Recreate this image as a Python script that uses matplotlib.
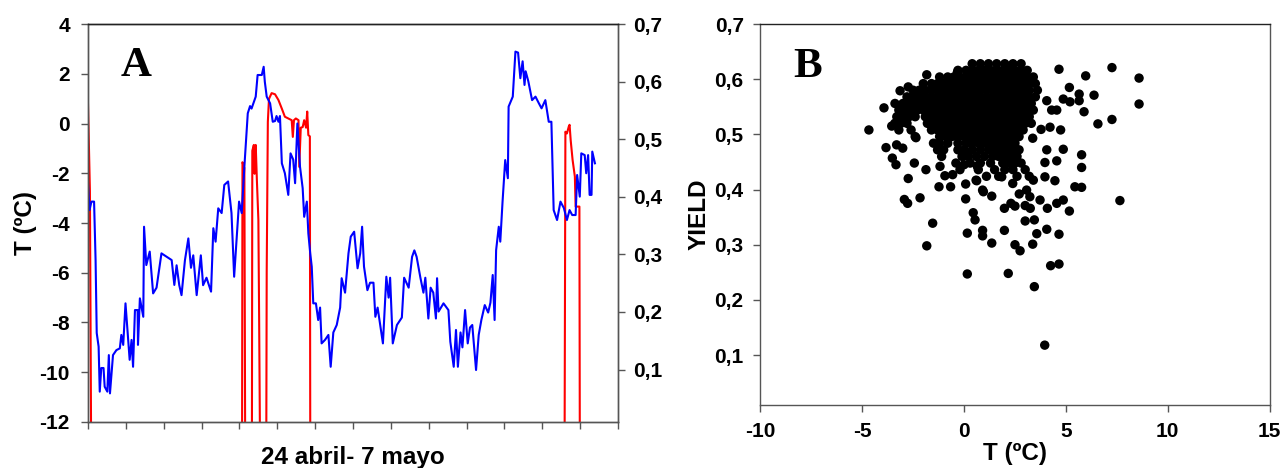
import numpy as np
import matplotlib
matplotlib.use("Agg")
import matplotlib.pyplot as plt

plt.rcParams['font.family'] = ['Liberation Sans', 'DejaVu Sans']
plt.rcParams['font.weight'] = 'bold'
plt.rcParams['axes.unicode_minus'] = False

# Panel A: temperature (blue, left axis) over 24 April - 7 May, in days
day_t = [0.00, 0.04, 0.09, 0.16, 0.20, 0.23, 0.28, 0.31, 0.35, 0.41, 0.44, 0.51, 0.55, 0.58,
         0.66, 0.75, 0.84, 0.88, 0.93, 0.99, 1.06, 1.10, 1.15, 1.19, 1.24, 1.31, 1.32, 1.37,
         1.46, 1.48, 1.54, 1.63, 1.72, 1.81, 1.94, 2.12, 2.21, 2.28, 2.34, 2.41, 2.47, 2.56,
         2.65, 2.72, 2.78, 2.87, 2.98, 3.04, 3.13, 3.25, 3.31, 3.37, 3.44, 3.53, 3.60, 3.70,
         3.79, 3.86, 3.93, 3.99, 4.06, 4.13, 4.22, 4.28, 4.32, 4.43, 4.48, 4.59, 4.64, 4.67,
         4.72, 4.81, 4.88, 4.94, 4.98, 5.03, 5.07, 5.12, 5.20, 5.29, 5.35, 5.42, 5.47, 5.53,
         5.60, 5.67, 5.71, 5.78, 5.82, 5.87, 5.91, 5.95, 6.02, 6.08, 6.13, 6.17, 6.26, 6.35,
         6.41, 6.48, 6.57, 6.66, 6.70, 6.79, 6.88, 6.94, 7.03, 7.12, 7.19, 7.24, 7.29, 7.38,
         7.45, 7.54, 7.59, 7.65, 7.79, 7.88, 7.94, 7.98, 8.05, 8.16, 8.29, 8.35, 8.47, 8.56,
         8.62, 8.68, 8.78, 8.86, 8.91, 8.99, 9.05, 9.12, 9.19, 9.22, 9.26, 9.39, 9.52, 9.57,
         9.66, 9.72, 9.77, 9.84, 9.89, 9.96, 10.03, 10.09, 10.15, 10.25, 10.32, 10.39, 10.48,
         10.57, 10.63, 10.69, 10.74, 10.78, 10.85, 10.89, 10.95, 11.02, 11.09, 11.11, 11.22,
         11.29, 11.36, 11.42, 11.48, 11.53, 11.56, 11.63, 11.73, 11.82, 11.91, 11.98, 12.08,
         12.17, 12.24, 12.30, 12.39, 12.48, 12.57, 12.65, 12.72, 12.79, 12.88, 12.92, 12.99,
         13.03, 13.12, 13.16, 13.21, 13.25, 13.30, 13.32, 13.39]
temp = [-2.40, -3.48, -3.14, -3.14, -5.49, -8.42, -8.97, -10.78, -9.83, -9.83, -10.58, -10.78,
        -9.31, -10.85, -9.31, -9.11, -9.04, -8.50, -8.90, -7.23, -8.70, -9.50, -8.70, -9.78,
        -7.50, -7.50, -8.90, -7.03, -7.77, -4.15, -5.69, -5.15, -6.83, -6.60, -5.22, -5.40,
        -5.49, -6.49, -5.70, -6.50, -6.90, -5.50, -4.62, -5.80, -5.30, -6.90, -5.30, -6.50,
        -6.20, -6.76, -4.21, -4.75, -3.41, -3.60, -2.47, -2.33, -3.60, -6.16, -4.50, -3.14,
        -3.60, -1.74, 0.41, 0.70, 0.60, 1.08, 1.95, 1.95, 2.28, 1.68, 1.08, 0.81, 0.07, 0.10,
        0.30, 0.07, 0.30, -1.60, -2.00, -2.87, -1.20, -1.45, -2.40, 0.00, -1.74, -2.60, -3.75,
        -3.14, -4.42, -5.22, -5.76, -7.23, -7.23, -7.90, -7.40, -8.84, -8.70, -8.50, -9.78,
        -8.40, -8.10, -7.40, -6.22, -6.80, -5.22, -4.55, -4.35, -5.82, -5.22, -4.15, -5.75,
        -6.70, -6.40, -6.40, -7.77, -7.40, -8.84, -6.16, -7.00, -6.20, -8.84, -8.10, -7.80,
        -6.20, -6.60, -5.36, -5.10, -5.36, -6.20, -6.80, -6.20, -7.84, -6.60, -6.80, -7.84,
        -6.22, -7.56, -7.23, -7.50, -8.77, -9.78, -8.30, -9.78, -8.40, -9.00, -7.50, -8.84,
        -8.20, -8.10, -9.91, -8.50, -7.90, -7.30, -7.60, -7.20, -6.09, -7.90, -5.09, -4.15,
        -4.75, -3.14, -1.47, -2.20, 0.68, 1.08, 2.89, 2.85, 1.82, 2.50, 1.55, 2.10, 1.70, 0.94,
        1.08, 0.81, 0.61, 0.94, 0.07, 0.07, -3.48, -3.88, -3.14, -3.40, -3.88, -3.48, -3.68,
        -3.68, -2.07, -2.94, -1.20, -1.27, -2.00, -1.27, -2.87, -2.87, -1.13, -1.60]

# Panel A: yield (red, right axis); zero at night
day_y = [0.00, 0.02, 0.05, 0.08, 4.07, 4.08, 4.13, 4.15, 4.33, 4.34, 4.38, 4.40, 4.43, 4.46,
         4.50, 4.52, 4.54, 4.71, 4.72, 4.75, 4.78, 4.85, 4.94, 5.03, 5.12, 5.20, 5.29, 5.38,
         5.41, 5.44, 5.49, 5.56, 5.58, 5.62, 5.67, 5.71, 5.76, 5.79, 5.82, 5.86, 5.87, 12.59,
         12.60, 12.61, 12.65, 12.70, 12.72, 12.75, 12.80, 12.86, 12.88, 12.98, 12.99, 13.39]
yld = [0.56, 0.50, 0.41, 0.0, 0.0, 0.46, 0.45, 0.0, 0.0, 0.48, 0.49, 0.44, 0.49, 0.43,
       0.36, 0.19, 0.0, 0.0, 0.27, 0.53, 0.57, 0.58, 0.578, 0.568, 0.553, 0.539, 0.536, 0.533,
       0.504, 0.533, 0.536, 0.533, 0.452, 0.52, 0.521, 0.533, 0.52, 0.548, 0.507, 0.505, 0.0, 0.0,
       0.26, 0.513, 0.51, 0.522, 0.525, 0.498, 0.464, 0.435, 0.383, 0.383, 0.0, 0.0]

# Panel B: yield vs temperature, dense core written row by row
core_rows = {
    0.628: [0.4, 0.8, 1.2, 1.6, 2.0, 2.4, 2.8],
    0.616: [-0.3, 0.1, 0.4, 0.7, 1.0, 1.3, 1.6, 1.9, 2.2, 2.5, 2.8, 3.1],
    0.604: [-1.2, -0.8, -0.5, -0.2, 0.1, 0.4, 0.7, 1.0, 1.3, 1.6, 1.9, 2.2, 2.5, 2.8, 3.1, 3.4],
    0.592: [-2.0, -1.6, -1.3, -1.0, -0.7, -0.4, -0.1, 0.2, 0.5, 0.8, 1.1, 1.4, 1.7, 2.0, 2.3,
            2.6, 2.9, 3.2, 3.5],
    0.580: [-2.5, -2.2, -1.9, -1.6, -1.3, -1.0, -0.7, -0.4, -0.1, 0.2, 0.5, 0.8, 1.1, 1.4, 1.7,
            2.0, 2.3, 2.6, 2.9, 3.2, 3.6],
    0.568: [-2.8, -2.5, -2.2, -1.9, -1.6, -1.3, -1.0, -0.7, -0.4, -0.1, 0.2, 0.5, 0.8, 1.1, 1.4,
            1.7, 2.0, 2.3, 2.6, 2.9, 3.2, 3.5],
    0.556: [-3.0, -2.7, -2.4, -2.1, -1.8, -1.5, -1.2, -0.9, -0.6, -0.3, 0.0, 0.3, 0.6, 0.9, 1.2,
            1.5, 1.8, 2.1, 2.4, 2.7, 3.0, 3.3],
    0.544: [-3.2, -2.9, -2.6, -2.3, -2.0, -1.7, -1.4, -1.1, -0.8, -0.5, -0.2, 0.1, 0.4, 0.7, 1.0,
            1.3, 1.6, 1.9, 2.2, 2.5, 2.8, 3.1, 3.4],
    0.532: [-3.3, -3.0, -2.7, -2.4, -1.9, -1.6, -1.3, -1.0, -0.7, -0.4, -0.1, 0.2, 0.5, 0.8, 1.1,
            1.4, 1.7, 2.0, 2.3, 2.6, 2.9, 3.2],
    0.520: [-3.4, -3.1, -2.8, -1.8, -1.5, -1.2, -0.9, -0.6, -0.3, 0.0, 0.3, 0.6, 0.9, 1.2, 1.5,
            1.8, 2.1, 2.4, 2.7, 3.0, 3.3],
    0.508: [-3.2, -2.6, -1.6, -1.3, -1.0, -0.7, -0.4, -0.1, 0.2, 0.5, 0.8, 1.1, 1.4, 1.7, 2.0,
            2.3, 2.6, 2.9],
    0.496: [-2.4, -1.2, -0.9, -0.6, -0.3, 0.0, 0.3, 0.6, 0.9, 1.2, 1.5, 1.8, 2.1, 2.4, 2.7],
    0.484: [-1.5, -1.2, -0.8, -0.3, 0.1, 0.4, 0.7, 1.0, 1.3, 1.6, 1.9, 2.2, 2.5],
    0.472: [-1.3, -1.0, -0.3, 0.0, 0.4, 0.8, 1.2, 1.5, 1.8, 2.1, 2.4, 2.7],
    0.460: [-1.1, -0.1, 0.2, 0.6, 1.0, 1.4, 1.7, 2.0, 2.3, 2.6],
    0.448: [-0.4, 0.3, 0.8, 1.3, 1.9, 2.2, 2.5, 2.8],
    0.436: [-0.2, 0.7, 1.5, 2.0, 2.4, 3.0],
    0.424: [1.1, 1.7, 2.6, 3.2],
}
# scattered points outside the core
t_out = [-4.67, -3.93, -3.83, -3.55, -3.39, -3.31, -3.14, -3.01, -2.74, -3.52, -3.34, -2.74,
         -2.44, -2.93, -2.77, -2.16, -1.87, -2.36, -1.83, -1.54, -1.83, -1.23, -0.94, -0.66,
         -0.56, -1.18, -0.33, 0.08, 0.08, 0.16, 0.45, 0.54, 0.16, 0.91, 0.91, 1.36, 1.98, 1.98,
         0.65, 0.91, 1.36, 0.00, 0.59, 2.17, 4.66, 7.26, 8.59, 8.59, 5.97, 6.38, 5.17, 5.65,
         5.65, 4.87, 5.20, 5.89, 6.57, 7.26, 4.30, 4.55, 4.06, 3.78, 4.22, 4.74, 3.37, 4.06,
         4.87, 3.97, 4.55, 5.77, 5.77, 3.97, 4.46, 5.44, 5.77, 7.65, 4.55, 4.87, 5.17, 4.09,
         3.73, 4.06, 4.66, 3.57, 3.37, 3.00, 3.45, 4.25, 4.66, 3.45, 3.96, 2.50, 2.75, 2.30,
         2.50, 3.00, 3.25, 0.62, 0.95, 1.85, 2.39, 2.71, 3.07, 3.23, 3.40, 0.66]
y_out = [0.508, 0.548, 0.476, 0.515, 0.556, 0.481, 0.579, 0.475, 0.586, 0.457, 0.445, 0.420,
         0.448, 0.382, 0.375, 0.385, 0.436, 0.494, 0.608, 0.339, 0.298, 0.405, 0.425, 0.405,
         0.427, 0.442, 0.612, 0.410, 0.383, 0.321, 0.358, 0.345, 0.247, 0.326, 0.316, 0.303,
         0.326, 0.366, 0.443, 0.399, 0.388, 0.445, 0.417, 0.248, 0.618, 0.621, 0.602, 0.555,
         0.606, 0.571, 0.585, 0.573, 0.561, 0.564, 0.559, 0.541, 0.519, 0.527, 0.544, 0.544,
         0.561, 0.509, 0.513, 0.508, 0.493, 0.472, 0.473, 0.449, 0.452, 0.463, 0.440, 0.423,
         0.416, 0.405, 0.404, 0.380, 0.375, 0.381, 0.361, 0.366, 0.381, 0.328, 0.319, 0.320,
         0.301, 0.343, 0.345, 0.262, 0.265, 0.224, 0.118, 0.300, 0.289, 0.375, 0.370, 0.371,
         0.366, 0.416, 0.396, 0.423, 0.411, 0.392, 0.399, 0.387, 0.417, 0.442]

t_core = [t for yv, ts in core_rows.items() for t in ts]
y_core = [yv for yv, ts in core_rows.items() for t in ts]
t_all = t_out + t_core
y_all = y_out + y_core

fig = plt.figure(figsize=(12.83, 4.68), dpi=100)
spine_col = '#555555'
yield_ticks = [0.1, 0.2, 0.3, 0.4, 0.5, 0.6, 0.7]
yield_labels = ['0,1', '0,2', '0,3', '0,4', '0,5', '0,6', '0,7']

# ---- Panel A ----
ax = fig.add_axes([0.0686, 0.0983, 0.4131, 0.8504])
ax2 = ax.twinx()
ax2.plot(day_y, yld, color='#ff0000', lw=1.5)
ax.plot(day_t, temp, color='#0000ff', lw=1.5)
ax.set_zorder(ax2.get_zorder() + 1)
ax.patch.set_visible(False)

ax.set_xlim(0, 14)
ax.set_ylim(-12, 4)
ax2.set_ylim(0.009, 0.7)
ax.set_xticks(range(0, 15))
ax.set_xticklabels([])
ax.set_yticks([4, 2, 0, -2, -4, -6, -8, -10, -12])
ax2.set_yticks(yield_ticks)
ax2.set_yticklabels(yield_labels)
for a in (ax, ax2):
    a.tick_params(direction='out', length=5, width=1, color=spine_col, labelsize=15)
    for s in a.spines.values():
        s.set_color(spine_col)
        s.set_linewidth(1)
    a.spines['top'].set_color('#222222')
ax.tick_params(axis='y', pad=8)
ax2.tick_params(axis='y', pad=6)
ax.set_ylabel('T (ºC)', fontsize=17.5, fontweight='bold', labelpad=2)
ax.set_xlabel('24 abril- 7 mayo', fontsize=17.5, fontweight='bold', labelpad=9)
ax.text(1.28, 2.3, 'A', fontsize=31, fontweight='bold', family='Liberation Serif',
        ha='center', va='center')

# ---- Panel B ----
bx = fig.add_axes([0.5926, 0.1340, 0.3970, 0.8147])
bx.scatter(t_all, y_all, s=46, color='black', edgecolors='none')
bx.set_xlim(-10, 15)
bx.set_ylim(0.009, 0.7)
bx.set_xticks([-10, -5, 0, 5, 10, 15])
bx.set_yticks(yield_ticks)
bx.set_yticklabels(yield_labels)
bx.tick_params(direction='out', length=5, width=1, color=spine_col, labelsize=15, pad=7)
for s in bx.spines.values():
    s.set_color(spine_col)
    s.set_linewidth(1)
bx.spines['top'].set_color('#222222')
bx.set_ylabel('YIELD', fontsize=17.5, fontweight='bold', labelpad=3)
bx.set_xlabel('T (ºC)', fontsize=17.5, fontweight='bold', labelpad=1)
bx.text(-7.7, 0.622, 'B', fontsize=31, fontweight='bold', family='Liberation Serif',
        ha='center', va='center')

fig.savefig('out.png', dpi=100)
